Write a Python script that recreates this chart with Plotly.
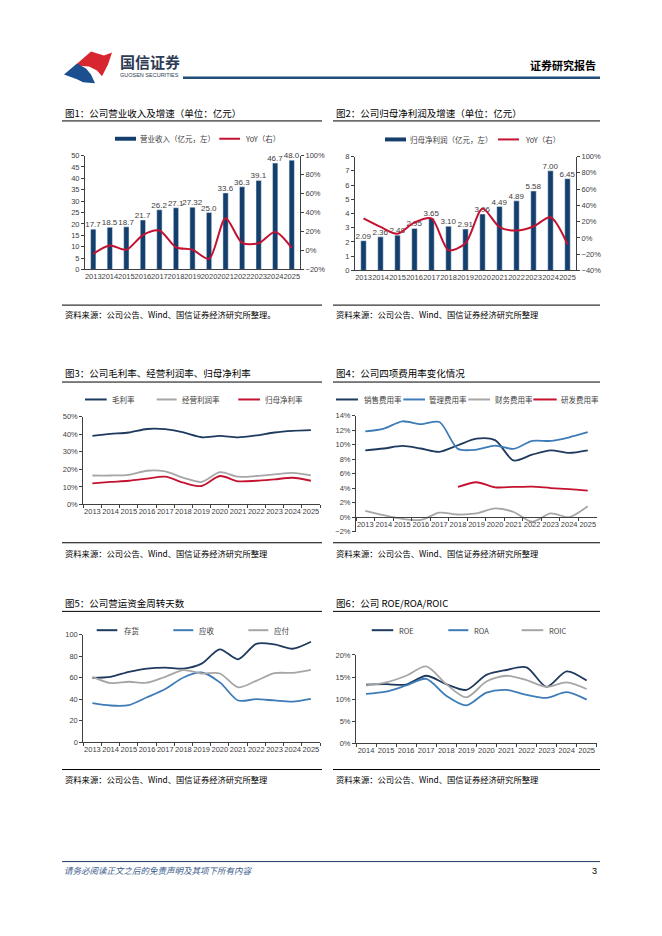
import plotly.graph_objects as go

# The page body has an 8px default margin; the figure fills the rest of the window.
OFF = 8
W, H = 662 - 2 * OFF, 936 - 2 * OFF
def px(x): return (x - OFF) / W
def py(y): return 1 - (y - OFF) / H

# ---------------- data ----------------
years13 = [str(y) for y in range(2013, 2026)]
years12 = [str(y) for y in range(2014, 2026)]

revenue = [17.7, 18.5, 18.7, 21.7, 26.2, 27.1, 27.32, 25.0, 33.6, 36.3, 39.1, 46.7, 48.0]
revenue_labels = ["17.7", "18.5", "18.7", "21.7", "26.2", "27.1", "27.32", "25.0", "33.6", "36.3", "39.1", "46.7", "48.0"]
revenue_yoy = [-3.5, 5.2, 0.8, 16.3, 21.0, 3.4, 0.8, -8.8, 34.0, 8.0, 7.7, 19.6, 2.8]

profit = [2.09, 2.36, 2.48, 2.95, 3.65, 3.10, 2.91, 3.96, 4.49, 4.89, 5.58, 7.00, 6.45]
profit_labels = ["2.09", "2.36", "2.48", "2.95", "3.65", "3.10", "2.91", "3.96", "4.49", "4.89", "5.58", "7.00", "6.45"]
profit_yoy = [24.0, 13.5, 5.0, 19.0, 24.0, -15.0, -6.5, 36.0, 13.4, 9.0, 14.0, 25.4, -7.9]

gross_margin = [39.1, 40.2, 41.0, 43.0, 42.9, 41.0, 38.3, 39.1, 38.2, 39.3, 41.0, 41.9, 42.3]
op_margin = [16.5, 16.5, 16.9, 19.2, 18.8, 15.2, 12.8, 18.4, 15.8, 16.2, 17.1, 18.0, 16.5]
net_margin = [12.0, 12.8, 13.5, 14.7, 15.8, 12.4, 10.5, 16.2, 13.2, 13.5, 14.3, 15.2, 13.5]

sales_exp = [9.2, 9.45, 9.8, 9.45, 9.0, 9.9, 10.8, 10.6, 7.8, 8.6, 9.2, 8.85, 9.2]
admin_exp = [11.8, 12.2, 13.2, 12.8, 13.1, 9.4, 9.3, 9.85, 9.4, 10.5, 10.5, 11.0, 11.7]
fin_exp = [0.85, 0.25, -0.25, -0.4, 0.6, 0.35, 0.5, 1.2, 0.7, -0.65, 0.5, 0.0, 1.5]
rd_years = [str(y) for y in range(2018, 2026)]
rd_exp = [4.15, 4.8, 4.1, 4.15, 4.2, 4.0, 3.85, 3.65]

inventory_days = [59.8, 60.7, 65.3, 68.4, 69.3, 68.4, 73.0, 86.2, 77.0, 91.4, 90.8, 86.8, 93.3]
receivable_days = [36.2, 34.0, 34.4, 41.7, 49.4, 60.1, 64.7, 55.5, 38.7, 39.9, 38.7, 37.7, 40.2]
payable_days = [60.7, 54.9, 56.1, 55.2, 60.7, 66.9, 63.8, 63.8, 50.9, 57.0, 64.1, 64.4, 67.2]

roe = [13.3, 13.4, 13.3, 15.3, 13.4, 12.1, 15.5, 16.6, 17.2, 12.8, 16.3, 14.2]
roa = [11.2, 11.7, 13.1, 14.6, 10.8, 8.6, 11.5, 12.1, 11.0, 10.3, 11.6, 9.9]
roic = [13.1, 13.8, 15.3, 17.4, 13.4, 10.4, 14.0, 15.3, 14.3, 12.8, 13.8, 12.3]

# ---------------- styles ----------------
NAVY_BAR = "#143f6d"
NAVY = "#1f3a5f"
BLUE = "#3e7cb8"
GRAY = "#a6a6a6"
RED = "#c41230"
AX = "#404040"
CJK = "Noto Sans CJK SC"
NUM = "Liberation Sans, Noto Sans CJK SC"
TICKFONT = dict(family=NUM, size=7.5, color=AX)

fig = go.Figure()

def line_trace(x, y, xa, ya, color, width=1.8):
    return go.Scatter(x=x, y=y, xaxis=xa, yaxis=ya, mode="lines",
                      line=dict(color=color, width=width, shape="spline", smoothing=0.8),
                      hoverinfo="skip")

# Chart 1
fig.add_trace(go.Bar(x=years13, y=revenue, xaxis="x", yaxis="y", marker_color=NAVY_BAR,
                     width=0.32, text=revenue_labels, textposition="outside",
                     textfont=dict(family=NUM, size=8, color=AX), constraintext="none",
                     cliponaxis=False))
fig.add_trace(line_trace(years13, revenue_yoy, "x", "y2", RED, 2))

# Chart 2
fig.add_trace(go.Bar(x=years13, y=profit, xaxis="x2", yaxis="y3", marker_color=NAVY_BAR,
                     width=0.32, text=profit_labels, textposition="outside",
                     textfont=dict(family=NUM, size=8, color=AX), constraintext="none",
                     cliponaxis=False))
fig.add_trace(line_trace(years13, profit_yoy, "x2", "y4", RED, 2))

# Chart 3
fig.add_trace(line_trace(years13, gross_margin, "x3", "y5", NAVY))
fig.add_trace(line_trace(years13, op_margin, "x3", "y5", GRAY))
fig.add_trace(line_trace(years13, net_margin, "x3", "y5", RED))

# Chart 4
fig.add_trace(line_trace(years13, sales_exp, "x4", "y6", NAVY))
fig.add_trace(line_trace(years13, admin_exp, "x4", "y6", BLUE))
fig.add_trace(line_trace(years13, fin_exp, "x4", "y6", GRAY))
fig.add_trace(line_trace(rd_years, rd_exp, "x4", "y6", RED))

# Chart 5
fig.add_trace(line_trace(years13, inventory_days, "x5", "y7", NAVY))
fig.add_trace(line_trace(years13, receivable_days, "x5", "y7", BLUE))
fig.add_trace(line_trace(years13, payable_days, "x5", "y7", GRAY))

# Chart 6
fig.add_trace(line_trace(years12, roe, "x6", "y8", NAVY))
fig.add_trace(line_trace(years12, roa, "x6", "y8", BLUE))
fig.add_trace(line_trace(years12, roic, "x6", "y8", GRAY))

# ---------------- axes ----------------
def xax(x0, x1, anchor, cats, ticks="", **kw):
    d = dict(domain=[px(x0), px(x1)], anchor=anchor, type="category",
             categoryorder="array", categoryarray=cats, range=[-0.5, len(cats) - 0.5],
             showline=True, linecolor=AX, linewidth=1, showgrid=False, zeroline=False,
             ticks=ticks, ticklen=3, tickcolor=AX, tickfont=TICKFONT, fixedrange=True,
             tickangle=0)
    if ticks:
        d["tickson"] = "boundaries"
    d.update(kw)
    return d

def yax(y_bottom, y_top, anchor, rng, dtick, suffix="", **kw):
    d = dict(domain=[py(y_bottom), py(y_top)], anchor=anchor, range=rng, dtick=dtick,
             tick0=rng[0], ticksuffix=suffix, showline=True, linecolor=AX, linewidth=1,
             showgrid=False, zeroline=False, ticks="outside", ticklen=3, tickcolor=AX,
             tickfont=TICKFONT, fixedrange=True)
    d.update(kw)
    return d

c4_bot, c4_top = py(532.7), py(415.5)
c4_zero = c4_bot + (0 - (-2)) / 16 * (c4_top - c4_bot)

fig.update_layout(
    xaxis=xax(85, 300, "y", years13),
    yaxis=yax(268, 153, "x", [0, 50], 5),
    yaxis2=dict(overlaying="y", side="right", anchor="x", range=[-20, 100], dtick=20,
                tick0=-20, ticksuffix="%", showline=True, linecolor=AX, showgrid=False,
                zeroline=False, ticks="outside", ticklen=3, tickcolor=AX, tickfont=TICKFONT),
    xaxis2=xax(355, 576, "y3", years13),
    yaxis3=yax(269, 154, "x2", [0, 8], 1),
    yaxis4=dict(overlaying="y3", side="right", anchor="x2", range=[-40, 100], dtick=20,
                tick0=-40, ticksuffix="%", showline=True, linecolor=AX, showgrid=False,
                zeroline=False, ticks="outside", ticklen=3, tickcolor=AX, tickfont=TICKFONT),
    xaxis3=xax(83.3, 320, "y5", years13, ticks="outside"),
    yaxis5=yax(505.3, 416.7, "x3", [0, 50], 10, "%"),
    xaxis4=xax(356, 597, "free", years13, ticks="outside", position=c4_zero),
    yaxis6=yax(532.7, 415.5, "x4", [-2, 14], 2, "%"),
    xaxis5=xax(83.3, 320, "y7", years13, ticks="outside"),
    yaxis7=yax(745.3, 636.7, "x5", [0, 100], 20),
    xaxis6=xax(356, 596.7, "y8", years12, ticks="outside"),
    yaxis8=yax(746.7, 657.3, "x6", [0, 20], 5, "%"),
)

# ---------------- page decoration ----------------
shapes = []
annotations = []

def hline(x0, x1, y, color="#000000", width=1):
    shapes.append(dict(type="line", xref="paper", yref="paper", x0=px(x0), x1=px(x1),
                       y0=py(y), y1=py(y), line=dict(color=color, width=width)))

def text(x, y, s, size=9, color="#000000", anchor="left", family=CJK):
    annotations.append(dict(xref="paper", yref="paper", x=px(x), y=py(y), text=s,
                            showarrow=False, xanchor=anchor, yanchor="middle",
                            font=dict(family=family, size=size, color=color)))

def leg_line(x0, x1, y, color, label, tx):
    shapes.append(dict(type="line", xref="paper", yref="paper", x0=px(x0), x1=px(x1),
                       y0=py(y), y1=py(y), line=dict(color=color, width=2)))
    text(tx, y, label, size=7.5, color="#404040")

def leg_rect(x0, x1, y, color, label, tx):
    shapes.append(dict(type="rect", xref="paper", yref="paper", x0=px(x0), x1=px(x1),
                       y0=py(y + 2), y1=py(y - 2), fillcolor=color, line=dict(width=0)))
    text(tx, y, label, size=7.5, color="#404040")

def path(points, color):
    d = "M " + " L ".join(f"{px(a):.5f},{py(b):.5f}" for a, b in points) + " Z"
    shapes.append(dict(type="path", xref="paper", yref="paper", path=d,
                       fillcolor=color, line=dict(width=0)))

# header
path([(75, 62), (91, 48), (104, 52), (112, 49), (108, 61), (102, 73), (97, 67), (89, 63)], "#d7262e")
path([(64, 71), (77, 60), (86, 65), (91, 71), (95, 80), (83, 79), (77, 76)], "#1c4f8f")
text(118, 58, "<b>国信证券</b>", size=15, color="#2d3b55")
text(118, 72, "GUOSEN SECURITIES", size=5.5, color="#2d3b55", family="Liberation Sans")
text(598, 62, "<b>证券研究报告</b>", size=11, anchor="right")
hline(183, 600, 74.5, color="#1f4e79", width=2.5)

# titles and rules
text(63, 110, "图1：公司营业收入及增速（单位：亿元）", size=9.5)
text(334, 110, "图2：公司归母净利润及增速（单位：亿元）", size=9.5)
hline(62, 322, 118)
hline(333, 600, 118)
text(63, 373, "图3：公司毛利率、经营利润率、归母净利率", size=9.5)
text(334, 373, "图4：公司四项费用率变化情况", size=9.5)
hline(62, 322, 381.7)
hline(333, 600, 381.7)
text(63, 605, "图5：公司营运资金周转天数", size=9.5)
text(334, 605, "图6：公司 ROE/ROA/ROIC", size=9.5)
hline(62, 322, 613.3)
hline(333, 600, 613.3)

# sources
src = "资料来源：公司公告、Wind、国信证券经济研究所整理"
for yl, yt, first in [(304, 313.3, src + "。"), (544, 554, src), (773, 783, src)]:
    hline(62, 322, yl)
    hline(333, 600, yl)
    text(63, yt, first, size=8.3)
    text(334, yt, src, size=8.3)

# legends
leg_rect(115, 136, 136, NAVY_BAR, "营业收入（亿元，左）", 138.3)
leg_line(219.3, 240, 136, RED, "YoY（右）", 242.7)
leg_rect(385, 406, 136.7, NAVY_BAR, "归母净利润（亿元，左）", 408.3)
leg_line(498, 519, 136.7, RED, "YoY（右）", 522.7)

leg_line(85, 106.7, 399.3, NAVY, "毛利率", 110)
leg_line(156.7, 176.7, 399.3, GRAY, "经营利润率", 180)
leg_line(238.3, 260, 399.3, RED, "归母净利率", 263.3)

leg_line(336, 358, 399.3, NAVY, "销售费用率", 361.7)
leg_line(403.3, 425, 399.3, BLUE, "管理费用率", 427.3)
leg_line(468.3, 490, 399.3, GRAY, "财务费用率", 493.3)
leg_line(533.3, 556.7, 399.3, RED, "研发费用率", 558.7)

leg_line(96.7, 117.3, 632.3, NAVY, "存货", 121.7)
leg_line(173.3, 193.3, 632.3, BLUE, "应收", 196.7)
leg_line(248.3, 268.3, 632.3, GRAY, "应付", 271.7)

leg_line(371.7, 393.3, 632.3, NAVY, "ROE", 396.7)
leg_line(448.3, 468.3, 632.3, BLUE, "ROA", 471.7)
leg_line(521.7, 543.3, 632.3, GRAY, "ROIC", 546.7)

# footer
hline(62, 600, 866, color="#1f3864", width=1)
text(62, 874, "<i>请务必阅读正文之后的免责声明及其项下所有内容</i>", size=8.5, color="#3a5a8c")
text(599, 875, "3", size=9, anchor="right", family="Liberation Sans")

fig.update_layout(
    width=W, height=H, margin=dict(l=0, r=0, t=0, b=0),
    paper_bgcolor="white", plot_bgcolor="white", showlegend=False,
    shapes=shapes, annotations=annotations,
    font=dict(family=CJK, color="#000000"),
)

fig.write_html("out.html", config={"displayModeBar": False})
